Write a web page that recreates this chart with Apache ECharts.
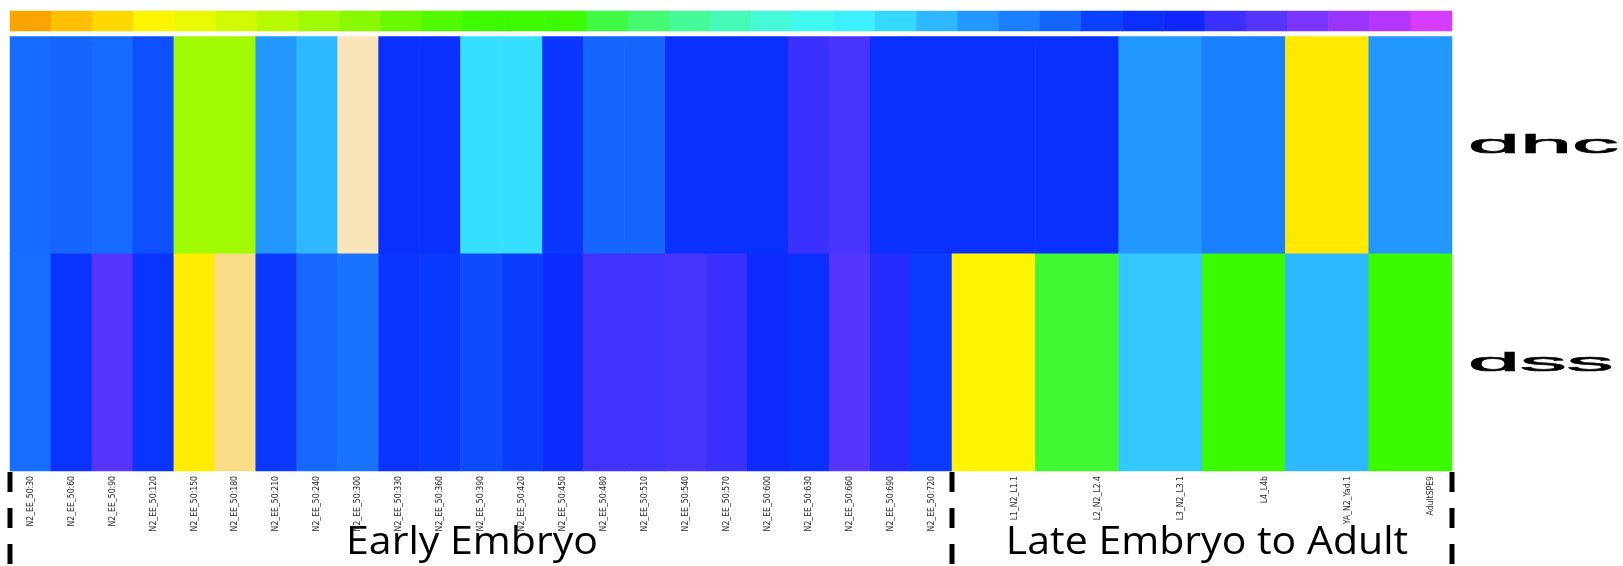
<!DOCTYPE html>
<html><head><meta charset="utf-8">
<script src="https://cdn.jsdelivr.net/npm/echarts@6/dist/echarts.min.js"></script>
<style>html,body{margin:0;padding:0;background:#fff}#c{width:1623px;height:566px}</style>
</head><body><div id="c"></div>
<script>
// ---------- data ----------
const genes = ['dhc', 'dss'];
const earlySamples = ['N2_EE_50:30','N2_EE_50:60','N2_EE_50:90','N2_EE_50:120','N2_EE_50:150','N2_EE_50:180',
  'N2_EE_50:210','N2_EE_50:240','N2_EE_50:300','N2_EE_50:330','N2_EE_50:360','N2_EE_50:390','N2_EE_50:420',
  'N2_EE_50:450','N2_EE_50:480','N2_EE_50:510','N2_EE_50:540','N2_EE_50:570','N2_EE_50:600','N2_EE_50:630',
  'N2_EE_50:660','N2_EE_50:690','N2_EE_50:720'];
const lateSamples = ['L1_N2_L1.1','L2_N2_L2.4','L3_N2_L3.1','L4_L4b','YA_N2_Yad.1','AdultSPE9'];
const groupLabels = ['Early Embryo', 'Late Embryo to Adult'];
// colour-scale strip levels (one block per level)
const scaleLevels = [0,1,2,3,4,5,6,7,8,9,10,11,12,13,14,15,16,17,18,19,20,21,22,23,24,25,26,27,28,29,30,31,32,33,34];
// expression levels (on the strip's scale; -2/-1 = beyond the orange end)
const dhcEarly = [24.8,25,24.8,25.6,7,7,23,22,-2,27,27,20.7,20.7,26.6,25,25,27,27,27,29,29.5,27,27];
const dssEarly = [24.7,26.8,30,26.8,2.7,-1,26.5,24.9,24.5,26.8,26.4,25.7,26.2,27.5,29.3,29.3,29.5,29,27.8,27,30,28.5,26.3];
const dhcLate = [27,27,23,24,2.6,23];
const dssLate = [3,13.7,21.5,12,22,12];

// ---------- style ----------
const palette = ['#FAE5B8','#F8DC88','#F8A500','#FFC000','#FFD800','#FFF500','#E8FA00','#D0FA00','#B8FA00',
  '#A0FA00','#88FA00','#6AFA00','#50FA00','#3CFA00','#3CFA00','#3CFA00','#40FA48','#45FA70','#45FA98',
  '#45FAB8','#45FAD8','#40FAF0','#3CF0FF','#35D8FF','#2EB8FF','#2298FF','#1A80FF','#1565FF','#0A40FF',
  '#0A30FF','#1028FF','#3A30FF','#5535FF','#7A35FF','#9A35FF','#B535FF','#D43CFF'];
const L = 10, T = 36.5, H = 434.5, EW = 942, LW = 500;
const labelFont = '"Liberation Sans Narrow","DejaVu Sans Condensed",sans-serif';
const lateShift = LW / 6 / 2;

function cells(rows) {
  const out = [];
  rows.forEach((vals, gi) => vals.forEach((v, i) => out.push([i, gi, v])));
  return out;
}

const chart = echarts.init(document.getElementById('c'), null, {renderer: 'canvas'});
const baseAxisLabel = {rotate: 90, margin: 5, fontSize: 8.6, color: '#2a2a2a', interval: 0, fontFamily: labelFont,
  hideOverlap: false};
chart.setOption({
  animation: false,
  grid: [
    {left: L, top: 11, width: EW + LW, height: 20},
    {left: L, top: T, width: EW, height: H},
    {left: L + EW, top: T, width: LW, height: H}
  ],
  xAxis: [
    {gridIndex: 0, type: 'category', data: scaleLevels.map(String), show: false},
    {gridIndex: 1, type: 'category', data: earlySamples, axisLine: {show: false}, axisTick: {show: false},
      splitLine: {show: false}, axisLabel: baseAxisLabel},
    {gridIndex: 2, type: 'category', data: lateSamples, axisLine: {show: false}, axisTick: {show: false},
      splitLine: {show: false}, axisLabel: Object.assign({}, baseAxisLabel, {
        lineHeight: lateShift, formatter: v => '\n' + v})}
  ],
  yAxis: [
    {gridIndex: 0, type: 'category', data: ['scale'], show: false},
    {gridIndex: 1, type: 'category', data: genes, inverse: true, show: false},
    {gridIndex: 2, type: 'category', data: genes, inverse: true, show: false}
  ],
  visualMap: {type: 'continuous', min: -2, max: 34, show: false, seriesIndex: [0, 1, 2],
    inRange: {color: palette}},
  series: [
    {type: 'heatmap', xAxisIndex: 0, yAxisIndex: 0, data: scaleLevels.map((v, i) => [i, 0, v]),
      emphasis: {disabled: true}, progressive: 0},
    {type: 'heatmap', xAxisIndex: 1, yAxisIndex: 1, data: cells([dhcEarly, dssEarly]),
      emphasis: {disabled: true}, progressive: 0},
    {type: 'heatmap', xAxisIndex: 2, yAxisIndex: 2, data: cells([dhcLate, dssLate]),
      emphasis: {disabled: true}, progressive: 0}
  ]
});

// annotations placed from the axes
const g = [];
genes.forEach(name => {
  const y = chart.convertToPixel({yAxisIndex: 2}, name);
  g.push({type: 'text', x: L + EW + LW + 16, y: y + 1, scaleX: 3.6, scaleY: 1,
    style: {text: name, fontSize: 26, fontFamily: '"Liberation Sans",Arial,sans-serif', fill: '#000',
      stroke: '#000', lineWidth: 0.6,
      textAlign: 'left', textVerticalAlign: 'middle', align: 'left', verticalAlign: 'middle'}});
});
const groupCenters = [L + EW / 2 - 9, L + EW + LW / 2 + 5];
groupLabels.forEach((t, i) => {
  g.push({type: 'text', x: groupCenters[i], y: 543, scaleX: 1.08, scaleY: 1,
    style: {text: t, fontSize: 38, fontFamily: '"Open Sans",sans-serif', fill: '#000',
      textAlign: 'center', textVerticalAlign: 'middle', align: 'center', verticalAlign: 'middle'}});
});
[L, L + EW, L + EW + LW].forEach(x => {
  g.push({type: 'line', shape: {x1: x, y1: T + H + 1, x2: x, y2: 566},
    style: {stroke: '#000', lineWidth: 5, lineDash: [20, 16]}});
});
chart.setOption({graphic: g});
</script>
</body></html>
